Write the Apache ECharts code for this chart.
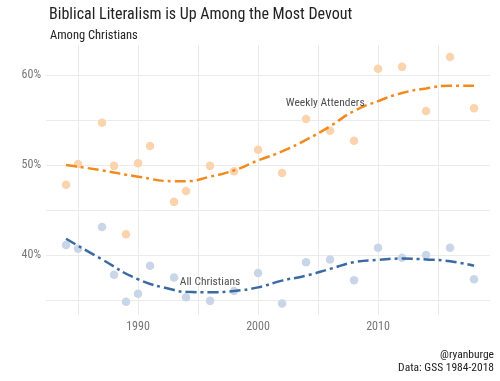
<!DOCTYPE html>
<html>
<head>
<meta charset="utf-8">
<script src="https://cdn.jsdelivr.net/npm/echarts@6/dist/echarts.min.js"></script>
<style>
html,body{margin:0;padding:0;background:#fff;}
#chart{width:500px;height:381px;}
</style>
</head>
<body>
<div id="chart"></div>
<script>
// ---- data ----
var years = [1984,1985,1987,1988,1989,1990,1991,1993,1994,1996,1998,2000,2002,2004,2006,2008,2010,2012,2014,2016,2018];
var weeklyValues = [47.8,50.1,54.7,49.9,42.3,50.2,52.1,45.9,47.1,49.9,49.3,51.7,49.1,55.1,53.8,52.7,60.7,60.9,56.0,62.0,56.3];
var allValues = [41.1,40.7,43.1,37.8,34.8,35.7,38.8,37.5,35.3,34.9,36.0,38.0,34.6,39.2,39.5,37.2,40.8,39.7,40.0,40.8,37.3];

var trendYears = [1984,1987,1990,1993,1994,1996,1998,2000,2002,2004,2006,2008,2010,2012,2014,2016,2018];
var weeklyTrend = [50.0,49.4,48.7,48.2,48.2,48.7,49.4,50.5,51.5,52.8,54.3,56.0,57.1,58.0,58.5,58.8,58.8];
var allTrend =    [41.8,39.5,37.3,36.1,35.9,35.85,36.0,36.4,37.15,37.7,38.45,39.2,39.45,39.6,39.5,39.3,38.8];

var xTickValues = [1985,1990,1995,2000,2005,2010,2015];
var xLabelValues = [1990,2000,2010];
var yTickValues = [35,40,45,50,55,60];
var yLabelValues = [40,50,60];

var annotations = [
  {name:'Weekly Attenders', x:2005.6, y:56.9},
  {name:'All Christians', x:1996.0, y:37.0}
];

var titleText = 'Biblical Literalism is Up Among the Most Devout';
var subtitleText = 'Among Christians';
var captionLines = ['@ryanburge','Data: GSS 1984-2018'];

// ---- chart ----
var FONT = "'Roboto Condensed','Liberation Sans Narrow','DejaVu Sans Condensed',sans-serif";
function pairs(xs, ys){ return xs.map(function(x,i){ return [x, ys[i]]; }); }

var chart = echarts.init(document.getElementById('chart'), null, {renderer:'canvas'});
var option = {
  animation:false,
  backgroundColor:'#ffffff',
  title:[
    {text:titleText, left:44, top:2, textStyle:{fontFamily:FONT, fontSize:16, fontWeight:'normal', color:'#222'}},
    {text:subtitleText, left:45, top:24, textStyle:{fontFamily:FONT, fontSize:12.5, fontWeight:'normal', color:'#222'}}
  ],
  graphic:captionLines.map(function(line, i){
    return {type:'text', right:6, top:349 + i*13,
      style:{text:line, fontFamily:FONT, fontSize:11.5, fill:'#222'}};
  }),
  grid:{left:46, right:10, top:45, bottom:66, containLabel:false},
  xAxis:{
    type:'value', min:1982.33, max:2019.33,
    axisLine:{show:false},
    axisTick:{show:false, customValues:xTickValues},
    axisLabel:{customValues:xLabelValues, formatter:function(v){ return String(v); }, color:'#777', fontFamily:FONT, fontSize:12, margin:6},
    splitLine:{show:true, lineStyle:{color:'#ebebeb', width:1}}
  },
  yAxis:{
    type:'value', min:33.33, max:63.33,
    axisLine:{show:false},
    axisTick:{show:false, customValues:yTickValues},
    axisLabel:{customValues:yLabelValues, formatter:'{value}%', color:'#777', fontFamily:FONT, fontSize:12, margin:5},
    splitLine:{show:true, lineStyle:{color:'#ebebeb', width:1}}
  },
  series:[
    {type:'scatter', data:pairs(years, weeklyValues), symbolSize:8.5, z:2,
     itemStyle:{color:'#fbd4ae', opacity:1}},
    {type:'scatter', data:pairs(years, allValues), symbolSize:8.5, z:2,
     itemStyle:{color:'#c9d6e8', opacity:1}},
    {type:'line', data:pairs(trendYears, weeklyTrend), smooth:0.5, showSymbol:false, z:3,
     lineStyle:{color:'#f28a1d', width:2.5, type:[11,4,3,4]}},
    {type:'line', data:pairs(trendYears, allTrend), smooth:0.5, showSymbol:false, z:3,
     lineStyle:{color:'#3b6aa3', width:2.5, type:[11,4,3,4]}},
    {type:'scatter', symbolSize:0, z:4,
     data:annotations.map(function(a){ return {name:a.name, value:[a.x,a.y]}; }),
     label:{show:true, position:'inside', formatter:'{b}', color:'#222', fontFamily:FONT, fontSize:11.5}}
  ]
};
chart.setOption(option);
</script>
</body>
</html>
